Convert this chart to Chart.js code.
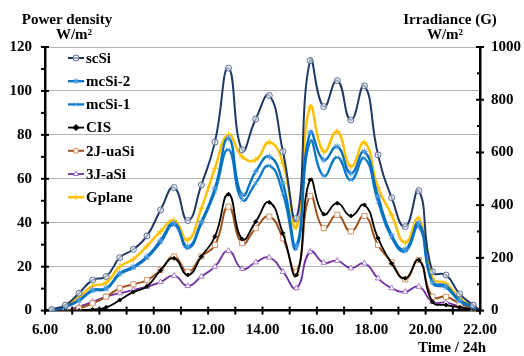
<!DOCTYPE html>
<html>
<head>
<meta charset="utf-8">
<script src="https://cdn.jsdelivr.net/npm/chart.js@4.4.1/dist/chart.umd.min.js"></script>
<style>
  html, body { margin: 0; padding: 0; background: #fff; }
  #wrap { width: 524px; height: 356px; }
</style>
</head>
<body>
<div id="wrap"><canvas id="chart" width="524" height="356"></canvas></div>
<script>
// time of day (hours)
const times = [6.25, 6.75, 7.25, 7.75, 8.25, 8.75, 9.25, 9.75, 10.25, 10.75, 11.25, 11.75, 12.25, 12.75, 13.25, 13.75,
  14.25, 14.75, 15.25, 15.75, 16.25, 16.75, 17.25, 17.75, 18.25, 18.75, 19.25, 19.75, 20.25, 20.75, 21.25, 21.75, 22.0];

// power density, W/m2 (left axis)
const scSi = [0.5, 2.5, 7.9, 13.9, 15.5, 24.1, 27.9, 34, 45.8, 56, 41, 57.2, 76.7, 110.4, 73.2, 87.2,
  97.9, 72.4, 42, 113.8, 92.9, 104.7, 86.8, 102.3, 70.9, 51.4, 38.2, 54.6, 17.7, 16.2, 7.6, 2.5, 0];
const mcSi2 = [0, 1.8, 4.8, 9.4, 10.2, 17, 20, 24.6, 32, 39.8, 29.1, 40.5, 55.7, 78.5, 52.7, 63.3,
  70.1, 58, 29.9, 81, 68.6, 74.7, 62.5, 72.4, 52, 34.4, 27.9, 39.8, 13.2, 11.2, 4.8, 1.8, 0];
const mcSi1 = [0, 1.6, 4.5, 9, 9.8, 16.5, 19.5, 24, 31, 39, 28.4, 39.5, 54.2, 73.2, 50.4, 58,
  65.9, 53.4, 28.4, 77, 61.3, 69.8, 59.5, 69.4, 49.6, 33.3, 26.9, 38.2, 12.5, 10.5, 4.2, 1.5, 0];
const cis = [0, 0, 0, 0.5, 1.5, 4.8, 8.5, 11, 18.3, 23.8, 16.2, 24.6, 33.7, 53, 32.6, 40.5,
  49.3, 35.2, 16.2, 59.5, 43.9, 48.9, 43.1, 48.1, 33, 21.5, 14.7, 23, 4, 2.5, 1.5, 0.5, 0];
const uaSi2J = [0, 0, 1, 3.3, 6.3, 10.2, 12, 13.9, 18.5, 24.6, 17.7, 24.6, 29.9, 47.3, 30.7, 37.5,
  42.8, 32.9, 17.7, 52.2, 37.5, 43.6, 36, 43.1, 29.9, 22, 14.2, 23, 6.3, 6.3, 3.3, 1, 0];
const aSi3J = [0, 0, 1.8, 4, 6.3, 7.9, 9.4, 10.9, 13, 15.9, 11.2, 15.5, 20, 27.2, 19, 22,
  24.2, 17.7, 10.2, 26.8, 21.8, 22.7, 19.3, 21.5, 14.7, 10.2, 8.6, 10.9, 4, 3.6, 1.8, 0.5, 0];

// irradiance G, W/m2 (right axis)
const gplane = [0, 18, 52, 93, 106, 167, 195, 245, 300, 342, 268, 388, 540, 667, 584, 572,
  639, 559, 318, 772, 603, 679, 547, 638, 467, 363, 258, 350, 123, 103, 47, 15, 0];

const FONT = '"Liberation Serif", "Times New Roman", serif';
const pts = arr => times.map((t, i) => ({ x: t, y: arr[i] }));
const lastHidden = r => c => (c.dataIndex === times.length - 1 ? 0 : r);

function series(label, data, color, style, opts) {
    return Object.assign({
        label: label,
        data: pts(data),
        borderColor: color,
        backgroundColor: color,
        borderWidth: 2,
        tension: 0.5,
        pointStyle: style,
        pointRadius: lastHidden(3.5),
        pointBorderWidth: 1,
        pointBorderColor: color,
        pointBackgroundColor: '#fff',
        yAxisID: 'y'
    }, opts || {});
}

const datasets = [
    series('scSi', scSi, '#1F3864', 'circle', { pointBorderColor: '#5B6E92', pointBackgroundColor: 'rgba(240,242,248,0.6)', pointRadius: lastHidden(3) }),
    series('mcSi-2', mcSi2, '#0070C0', 'star', { pointBorderColor: '#4F9BDF', pointRadius: lastHidden(3.2), borderWidth: 2.3 }),
    series('mcSi-1', mcSi1, '#0A78C8', 'crossRot', { pointBorderColor: '#5AA2E0', pointRadius: lastHidden(3), borderWidth: 2.3 }),
    series('CIS', cis, '#000000', 'rectRot', { pointBackgroundColor: '#000', pointRadius: lastHidden(2), borderWidth: 1.8 }),
    series('2J-uaSi', uaSi2J, '#A0501A', 'rect', { pointBorderColor: '#D49468', pointRadius: lastHidden(3.6) }),
    series('3J-aSi', aSi3J, '#7030A0', 'triangle', { pointBorderColor: '#A47CC6', pointRadius: lastHidden(3.2), borderWidth: 1.8 }),
    series('Gplane', gplane, '#FFC000', 'cross', { pointBorderColor: '#FFC000', pointRadius: lastHidden(3.2), borderWidth: 2.5, yAxisID: 'y1' })
];

const decorations = {
    id: 'decorations',
    afterDraw(chart) {
        const ctx = chart.ctx;
        const area = chart.chartArea;
        const { x, y, y1 } = chart.scales;
        const seg = (x0, y0, x2, y2) => { ctx.beginPath(); ctx.moveTo(x0, y0); ctx.lineTo(x2, y2); ctx.stroke(); };

        ctx.save();
        ctx.strokeStyle = '#000';
        ctx.lineWidth = 2;
        // hour ticks on the time axis
        for (let h = 6; h <= 22; h++) {
            const px = x.getPixelForValue(h);
            seg(px, area.bottom - 4, px, area.bottom + 4);
        }
        // left axis ticks
        for (let v = 0; v <= 120; v += 10) {
            const py = y.getPixelForValue(v);
            if (v % 20 === 0) seg(area.left - 4, py, area.left + 4, py);
            else seg(area.left - 4, py, area.left, py);
        }
        // right axis ticks
        for (let v = 0; v <= 1000; v += 100) {
            const py = y1.getPixelForValue(v);
            if (v % 200 === 0) seg(area.right - 4, py, area.right + 4, py);
            else seg(area.right - 3, py, area.right, py);
        }

        // axis titles
        ctx.fillStyle = '#000';
        ctx.font = 'bold 15px ' + FONT;
        ctx.textBaseline = 'middle';
        ctx.textAlign = 'center';
        ctx.fillText('Power density', 67, 20);
        ctx.fillText('W/m\u00B2', 74, 35);
        ctx.fillText('Irradiance (G)', 450, 20);
        ctx.fillText('W/m\u00B2', 445, 35);
        ctx.textAlign = 'right';
        ctx.fillText('Time / 24h', 486, 348);

        // legend inside the plot
        ctx.textAlign = 'left';
        chart.data.datasets.forEach((ds, i) => {
            const ly = 58 + i * 23.2;
            ctx.strokeStyle = ds.borderColor;
            ctx.lineWidth = ds.borderWidth;
            seg(68, ly, 84, ly);
            ctx.strokeStyle = ds.pointBorderColor;
            ctx.fillStyle = ds.pointBackgroundColor;
            ctx.lineWidth = 1;
            if (Chart.helpers && Chart.helpers.drawPoint) {
                Chart.helpers.drawPoint(ctx, { pointStyle: ds.pointStyle, radius: 3, rotation: 0, borderWidth: 1 }, 76, ly);
            }
            ctx.fillStyle = '#000';
            ctx.fillText(ds.label, 86, ly + 1);
        });
        ctx.restore();
    }
};

const tickFont = { family: FONT, size: 15, weight: 'bold' };

new Chart(document.getElementById('chart'), {
    type: 'line',
    data: { datasets: datasets },
    options: {
        responsive: false,
        animation: false,
        layout: { padding: { top: 47, left: 0, right: 0, bottom: 0 } },
        plugins: { legend: { display: false }, tooltip: { enabled: false } },
        scales: {
            x: {
                type: 'linear',
                min: 6,
                max: 22,
                afterFit: s => { s.height = 45.4; },
                ticks: {
                    stepSize: 2, autoSkip: false, maxRotation: 0, padding: 11,
                    color: '#000', font: tickFont,
                    callback: v => Number(v).toFixed(2)
                },
                grid: { display: false, drawTicks: false },
                border: { display: true, color: '#000', width: 2.5 }
            },
            y: {
                position: 'left',
                min: 0,
                max: 120,
                afterFit: s => { s.width = 45; },
                ticks: { stepSize: 20, padding: 13, color: '#000', font: tickFont, callback: v => String(v) },
                grid: { color: '#B4B4B4', lineWidth: 1, drawTicks: false },
                border: { display: true, color: '#000', width: 2.5 }
            },
            y1: {
                position: 'right',
                min: 0,
                max: 1000,
                afterFit: s => { s.width = 44; },
                ticks: { stepSize: 200, padding: 11, color: '#000', font: tickFont, callback: v => String(v) },
                grid: { display: false, drawTicks: false },
                border: { display: true, color: '#000', width: 2.5 }
            }
        }
    },
    plugins: [decorations]
});
</script>
</body>
</html>
